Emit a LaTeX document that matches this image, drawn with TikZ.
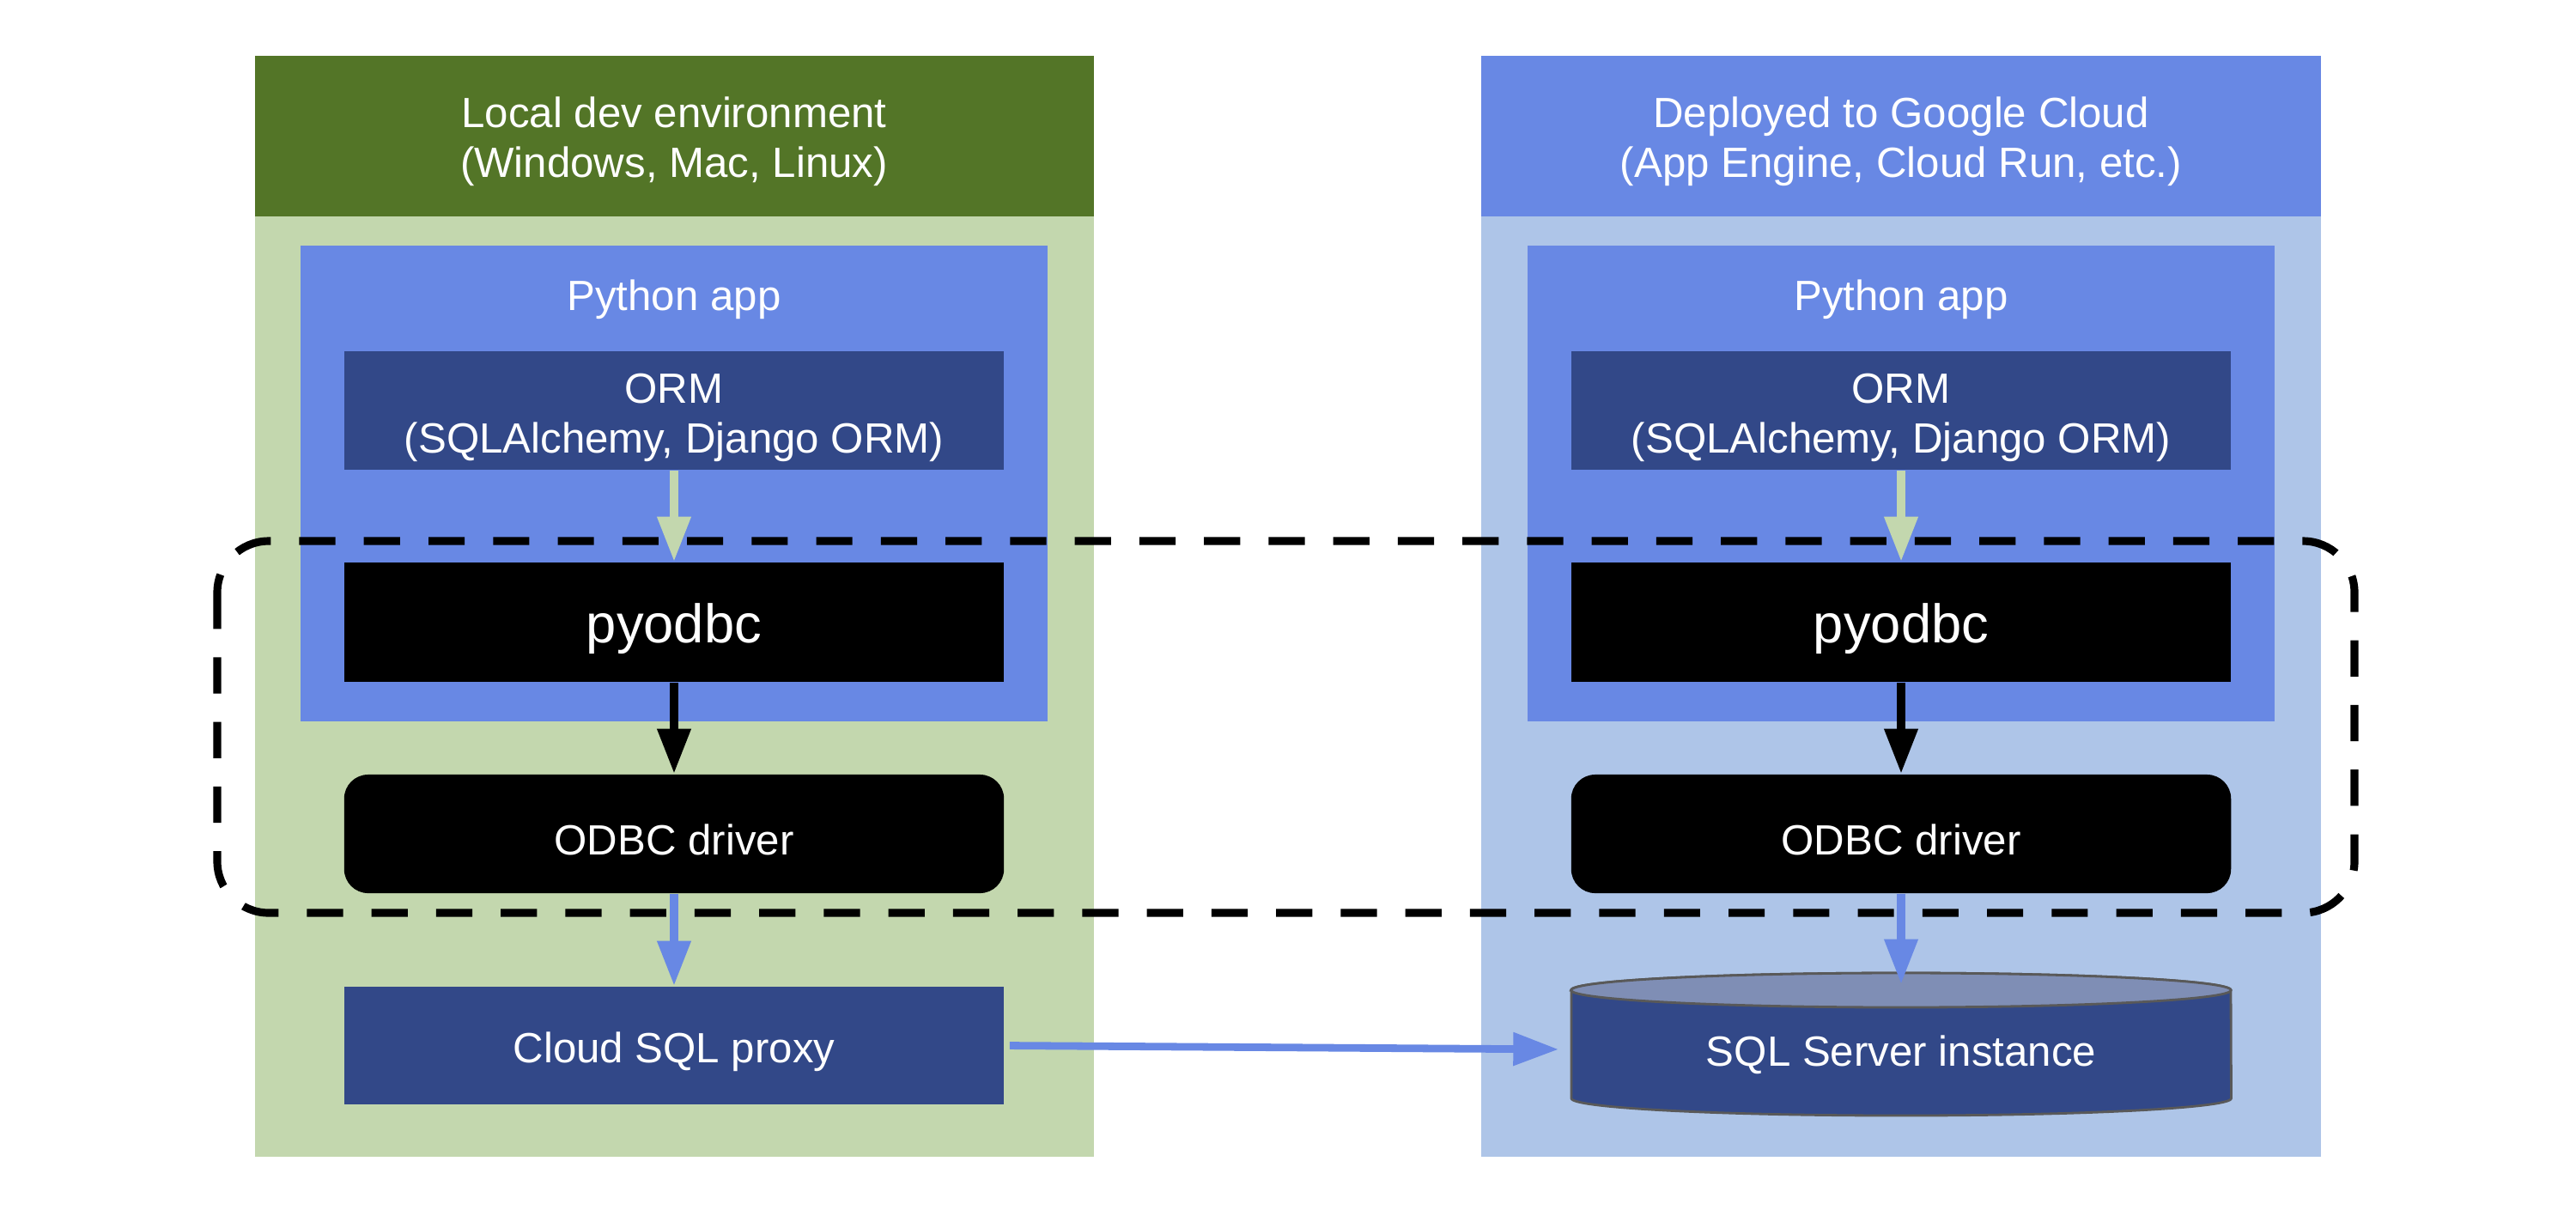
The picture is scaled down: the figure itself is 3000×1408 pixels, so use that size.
\documentclass[tikz,border=0pt]{standalone}
\usepackage{fontspec}
\setmainfont{Liberation Sans}
\usepackage{tikz}
\usetikzlibrary{arrows.meta}

\definecolor{envgreen}{HTML}{537527}
\definecolor{envlight}{HTML}{C3D7AE}
\definecolor{gcpblue}{HTML}{6888E4}
\definecolor{gcplight}{HTML}{AEC5E8}
\definecolor{appblue}{HTML}{6888E4}
\definecolor{navy}{HTML}{324888}
\definecolor{dbtop}{HTML}{7F8EB5}

\newcommand{\tstrut}{\rule{0pt}{14.5pt}}

\begin{document}
\begin{tikzpicture}[x=0.01cm,y=-0.01cm,
  lift/.style={execute at begin node={\rule{0pt}{#1}}},
  txt/.style={text=white, font=\fontsize{14}{16.5}\selectfont, align=center, inner sep=0pt, lift=14pt},
  box/.style={txt, minimum width=7.68cm, minimum height=1.38cm},
  flow/.style={line width=3pt, -{Triangle[length=15pt,width=10.5pt]}},
  dashbox/.style={line width=2.6pt, dash pattern=on 12pt off 9.4pt, rounded corners=0.6cm}]

\useasboundingbox (0,0) rectangle (3000,1408);

% Panels
\fill[envlight] (297,65) rectangle (1274,1347);
\fill[envgreen] (297,65) rectangle (1274,252);
\fill[gcplight] (1725,65) rectangle (2703,1347);
\fill[gcpblue] (1725,65) rectangle (2703,252);
\node[txt] (hdrL) at (785,165) {Local dev environment\\(Windows, Mac, Linux)};
\node[txt] (hdrR) at (2214,165) {Deployed to Google Cloud\\(App Engine, Cloud Run, etc.)};

% Python app boxes
\fill[appblue] (350,286) rectangle (1220,840);
\fill[appblue] (1779,286) rectangle (2649,840);
\node[txt] (appL) at (785,342) {Python app};
\node[txt] (appR) at (2214,342) {Python app};

% Left stack
\node[box, fill=navy] (ormL) at (785,478) {\tstrut ORM\\(SQLAlchemy, Django ORM)};
\node[box, fill=black, minimum height=1.39cm, font=\fontsize{18}{21}\selectfont, lift=17.5pt] (pyL) at (785,724.5) {pyodbc};
\node[box, fill=black, rounded corners=0.28cm] (odbcL) at (785,971) {ODBC driver};
\node[box, fill=navy, minimum height=1.37cm] (proxy) at (785,1217.5) {Cloud SQL proxy};

% Right stack
\node[box, fill=navy] (ormR) at (2214,478) {\tstrut ORM\\(SQLAlchemy, Django ORM)};
\node[box, fill=black, minimum height=1.39cm, font=\fontsize{18}{21}\selectfont, lift=17.5pt] (pyR) at (2214,724.5) {pyodbc};
\node[box, fill=black, rounded corners=0.28cm] (odbcR) at (2214,971) {ODBC driver};

% Database cylinder
\filldraw[navy, draw=black!65, line width=0.8pt] (1830,1153) -- (1830,1279)
  arc[start angle=180, end angle=360, x radius=3.84cm, y radius=0.2cm]
  -- (2598,1153)
  arc[start angle=0, end angle=180, x radius=3.84cm, y radius=0.2cm] -- cycle;
\filldraw[fill=dbtop, draw=black!65, line width=0.8pt] (2214,1153) ellipse[x radius=3.84cm, y radius=0.2cm];
\node[txt, minimum width=7.68cm, minimum height=1.5cm] (sqlsrv) at (2214,1222) {SQL Server instance};

% Dashed group
\draw[dashbox] (253,630) rectangle (2742,1063);

% Arrows
\draw[flow, envlight] (ormL) -- (pyL);
\draw[flow, envlight] (ormR) -- (pyR);
\draw[flow, black] (pyL) -- (odbcL);
\draw[flow, black] (pyR) -- (odbcR);
\draw[flow, gcpblue] (odbcL) -- (proxy);
\draw[flow, gcpblue] (odbcR.south) -- (sqlsrv.north);
\draw[flow, gcpblue, line width=2.5pt, shorten <=0.06cm, shorten >=0.14cm] (proxy.east) -- (sqlsrv.west);

\end{tikzpicture}
\end{document}
